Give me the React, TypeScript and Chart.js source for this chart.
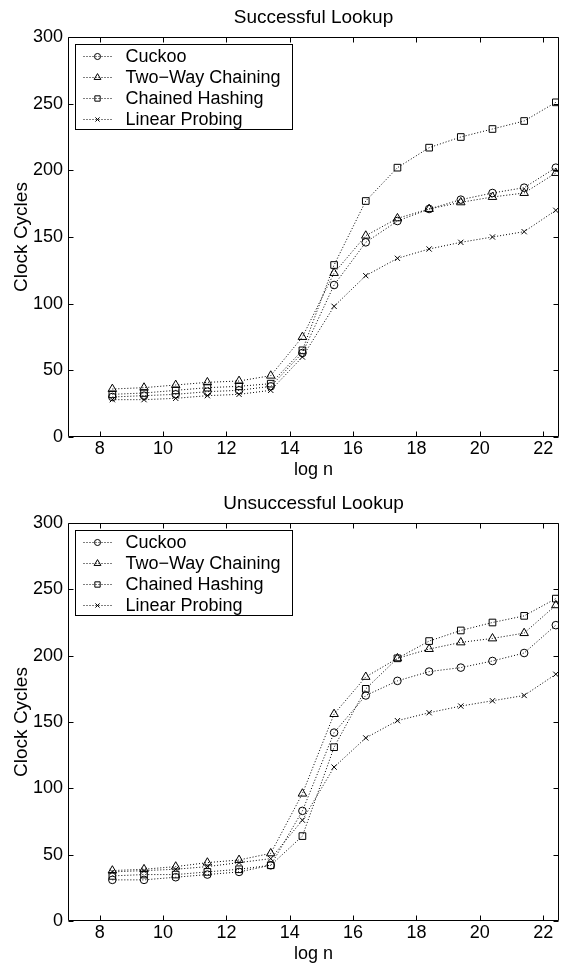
import React, { useEffect, useRef } from 'react';
import { Chart, registerables } from 'chart.js';
import { drawPoint } from 'chart.js/helpers';

Chart.register(...registerables);

const logN = [8.4, 9.4, 10.4, 11.4, 12.4, 13.4, 14.4, 15.4, 16.4, 17.4, 18.4, 19.4, 20.4, 21.4, 22.4];
const seriesLabels = ['Cuckoo', 'Two\u2212Way Chaining', 'Chained Hashing', 'Linear Probing'];

const successfulCuckoo = [30, 31, 32, 34, 35, 38, 63, 114, 146, 162, 171, 178, 183, 187, 202];
const successfulTwoWay = [36, 37, 39, 41, 42, 46, 75, 123, 151, 164, 171, 176, 180, 183, 198];
const successfulChained = [32, 33, 35, 37, 38, 40, 65, 129, 177, 202, 217, 225, 231, 237, 251];
const successfulLinear = [28, 28, 29, 31, 32, 35, 60, 98, 121, 134, 141, 146, 150, 154, 170];

const unsuccessfulCuckoo = [31, 31, 33, 35, 37, 42, 83, 142, 170, 181, 188, 191, 196, 202, 223];
const unsuccessfulTwoWay = [38, 39, 41, 44, 46, 51, 96, 156, 184, 198, 205, 210, 213, 217, 238];
const unsuccessfulChained = [34, 35, 35, 37, 39, 42, 64, 131, 175, 198, 211, 219, 225, 230, 243];
const unsuccessfulLinear = [37, 38, 39, 41, 44, 47, 76, 116, 138, 151, 157, 162, 166, 170, 186];

const xTicks = [8, 10, 12, 14, 16, 18, 20, 22];
const yTicks = [0, 50, 100, 150, 200, 250, 300];

const pointStyles = ['circle', 'triangle', 'rect', 'crossRot'];
const pointRadii = [3.8, 4.9, 4.7, 3.7];

const FONT = '"Liberation Sans", Arial, Helvetica, sans-serif';

const framePlugin = {
  id: 'matlabFrame',
  afterDatasetsDraw(chart: any) {
    const { ctx, chartArea: a, scales } = chart;
    const x = scales.x;
    const y = scales.y;
    ctx.save();
    ctx.strokeStyle = '#000';
    ctx.lineWidth = 1;
    ctx.setLineDash([]);
    const L = Math.round(a.left) + 0.5;
    const R = Math.round(a.right) - 0.5;
    const T = Math.round(a.top) + 0.5;
    const B = Math.round(a.bottom) - 0.5;
    ctx.beginPath();
    ctx.rect(L, T, R - L, B - T);
    const tl = 5;
    for (const t of x.ticks) {
      const px = Math.round(x.getPixelForValue(t.value)) + 0.5;
      ctx.moveTo(px, B);
      ctx.lineTo(px, B - tl);
      ctx.moveTo(px, T);
      ctx.lineTo(px, T + tl);
    }
    for (const t of y.ticks) {
      const py = Math.round(y.getPixelForValue(t.value)) + 0.5;
      ctx.moveTo(L, py);
      ctx.lineTo(L + tl, py);
      ctx.moveTo(R, py);
      ctx.lineTo(R - tl, py);
    }
    ctx.stroke();
    ctx.restore();
  },
};

const boxLegendPlugin = {
  id: 'boxLegend',
  afterDraw(chart: any) {
    const { ctx, chartArea: a } = chart;
    const left = Math.round(a.left) + 7.5;
    const top = Math.round(a.top) + 7.5;
    const w = 217;
    const h = 85;
    ctx.save();
    ctx.fillStyle = '#fff';
    ctx.fillRect(left, top, w, h);
    ctx.strokeStyle = '#000';
    ctx.lineWidth = 1;
    ctx.setLineDash([]);
    ctx.strokeRect(left, top, w, h);
    ctx.font = `18px ${FONT}`;
    ctx.textBaseline = 'middle';
    ctx.textAlign = 'left';
    chart.data.datasets.forEach((ds: any, i: number) => {
      const cy = Math.round(top + 11 + i * 21) + 0.5;
      ctx.strokeStyle = '#000';
      ctx.lineWidth = 1;
      ctx.setLineDash([1, 2]);
      ctx.beginPath();
      ctx.moveTo(left + 8, cy);
      ctx.lineTo(left + 36, cy);
      ctx.stroke();
      ctx.setLineDash([]);
      ctx.fillStyle = 'rgba(0,0,0,0)';
      drawPoint(ctx, { pointStyle: ds.pointStyle, radius: ds.pointRadius * 0.8, rotation: 0, borderWidth: 1 } as any, left + 22, cy);
      ctx.fillStyle = '#000';
      ctx.fillText(ds.label, left + 50, cy + 0.5);
    });
    ctx.restore();
  },
};

type Layout = { height: number; top: number; bottom: number; titleCenter: number; xTitleCenter: number };

function LookupChart({ title, series, layout }: { title: string; series: number[][]; layout: Layout }) {
  const ref = useRef<HTMLCanvasElement>(null);
  useEffect(() => {
    if (!ref.current) return;
    const titleSize = 19;
    const titleLH = titleSize * 1.2;
    const titlePadTop = layout.titleCenter - titleLH / 2;
    const titlePadBottom = layout.top - titlePadTop - titleLH;
    const axisFont = { family: FONT, size: 18 };
    const xTitleLH = 18 * 1.2;
    const xTitlePadBottom = layout.height - layout.xTitleCenter - xTitleLH / 2;
    const chart = new Chart(ref.current, {
      type: 'line',
      data: {
        datasets: series.map((vals, i) => ({
          label: seriesLabels[i],
          data: logN.map((x, j) => ({ x, y: vals[j] })),
          borderColor: '#000',
          borderWidth: 1,
          borderDash: [1, 2],
          borderCapStyle: 'butt',
          fill: false,
          tension: 0,
          pointStyle: pointStyles[i],
          pointRadius: pointRadii[i],
          pointBorderColor: '#000',
          pointBackgroundColor: 'rgba(0,0,0,0)',
          pointBorderWidth: 1,
        })) as any,
      },
      options: {
        responsive: false,
        animation: false,
        devicePixelRatio: 1,
        layout: { padding: { left: 0, right: 6, top: 0, bottom: 0 } },
        plugins: {
          legend: { display: false },
          tooltip: { enabled: false },
          title: {
            display: true,
            text: title,
            fullSize: false,
            color: '#000',
            font: { family: FONT, size: titleSize, weight: 'normal' },
            padding: { top: titlePadTop, bottom: titlePadBottom },
          },
        },
        scales: {
          x: {
            type: 'linear',
            min: 7,
            max: 22.5,
            afterBuildTicks: (s: any) => {
              s.ticks = xTicks.map((v) => ({ value: v }));
            },
            afterFit: (s: any) => {
              s.height = layout.height - layout.bottom;
            },
            grid: { display: false, drawTicks: false },
            border: { display: false },
            ticks: { color: '#000', font: axisFont, padding: 1, maxRotation: 0, autoSkip: false },
            title: {
              display: true,
              text: 'log n',
              color: '#000',
              font: axisFont,
              padding: { top: 0, bottom: xTitlePadBottom },
            },
          },
          y: {
            type: 'linear',
            min: 0,
            max: 300,
            afterBuildTicks: (s: any) => {
              s.ticks = yTicks.map((v) => ({ value: v }));
            },
            afterFit: (s: any) => {
              s.width = 68;
            },
            grid: { display: false, drawTicks: false },
            border: { display: false },
            ticks: { color: '#000', font: axisFont, padding: 5, autoSkip: false },
            title: {
              display: true,
              text: 'Clock Cycles',
              color: '#000',
              font: { family: FONT, size: 19 },
              padding: { top: 10.6, bottom: 0 },
            },
          },
        },
      } as any,
      plugins: [framePlugin, boxLegendPlugin],
    });
    return () => chart.destroy();
  }, []);
  return (
    <canvas
      ref={ref}
      width={565}
      height={layout.height}
      style={{ display: 'block', width: 565, height: layout.height }}
    />
  );
}

const topLayout: Layout = { height: 485, top: 37, bottom: 437, titleCenter: 18, xTitleCenter: 470.5 };
const bottomLayout: Layout = { height: 481, top: 38, bottom: 436, titleCenter: 19, xTitleCenter: 469.5 };

export default function App() {
  return (
    <div style={{ position: 'absolute', left: 0, top: 0, width: 565, height: 966, background: '#fff' }}>
      <LookupChart
        title="Successful Lookup"
        series={[successfulCuckoo, successfulTwoWay, successfulChained, successfulLinear]}
        layout={topLayout}
      />
      <LookupChart
        title="Unsuccessful Lookup"
        series={[unsuccessfulCuckoo, unsuccessfulTwoWay, unsuccessfulChained, unsuccessfulLinear]}
        layout={bottomLayout}
      />
    </div>
  );
}
